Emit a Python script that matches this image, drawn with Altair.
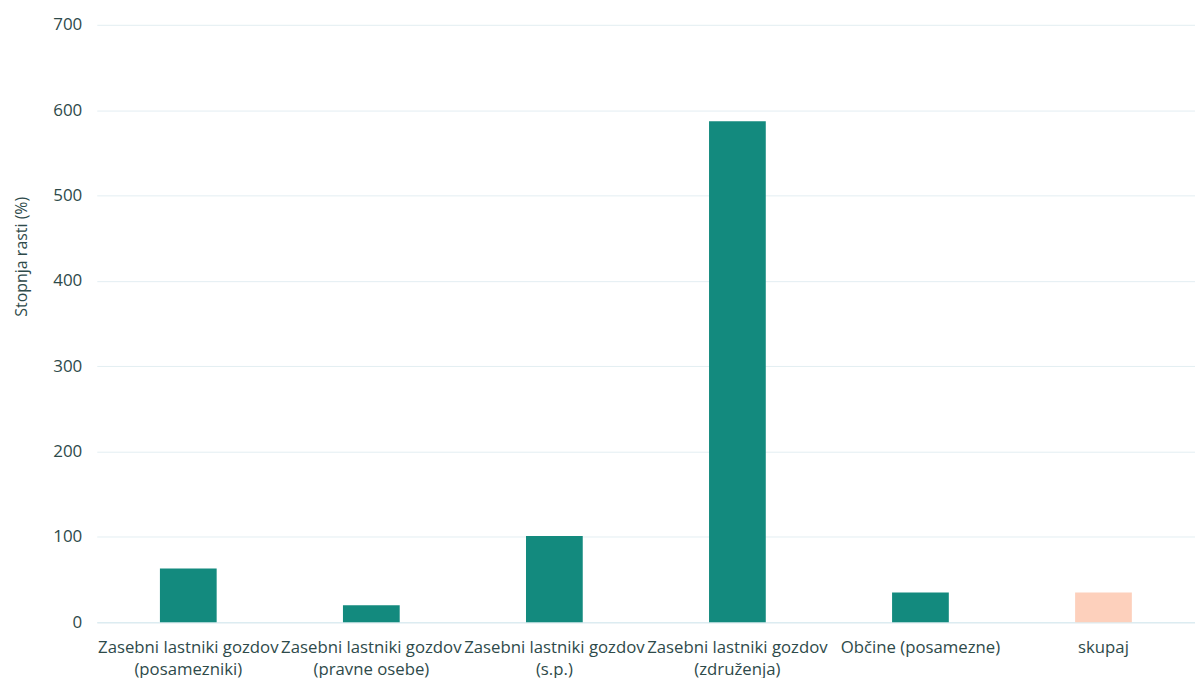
import altair as alt
import pandas as pd

kategorije = [
    "Zasebni lastniki gozdov\n(posamezniki)",
    "Zasebni lastniki gozdov\n(pravne osebe)",
    "Zasebni lastniki gozdov\n(s.p.)",
    "Zasebni lastniki gozdov\n(združenja)",
    "Občine (posamezne)",
    "skupaj",
]
stopnja_rasti = [63, 20, 101, 587, 35, 35]

df = pd.DataFrame({"kategorija": kategorije, "vrednost": stopnja_rasti})

TEXT = "#2e4a4a"
FONT = "Open Sans"

chart = (
    alt.Chart(df)
    .mark_bar(width={"band": 0.31})
    .encode(
        x=alt.X(
            "kategorija:N",
            sort=kategorije,
            title=None,
            scale=alt.Scale(paddingInner=0, paddingOuter=0),
            axis=alt.Axis(
                labelAngle=0,
                labelExpr="split(datum.label, '\\n')",
                labelFontSize=16.8,
                labelColor=TEXT,
                labelFont=FONT,
                labelPadding=17,
                labelLineHeight=22,
                ticks=False,
                domain=True,
                domainColor="#d6e8ee",
                labelLimit=300,
            ),
        ),
        y=alt.Y(
            "vrednost:Q",
            title="Stopnja rasti (%)",
            scale=alt.Scale(domain=[0, 700]),
            axis=alt.Axis(
                values=[0, 100, 200, 300, 400, 500, 600, 700],
                labelFontSize=17,
                labelColor=TEXT,
                labelFont=FONT,
                labelPadding=15,
                titleFontSize=16,
                titleFont=FONT,
                titleColor=TEXT,
                titleFontWeight="normal",
                titlePadding=23,
                titleY=232,
                ticks=False,
                domain=False,
                gridColor="#e3eef2",
            ),
        ),
        color=alt.condition(
            alt.datum.kategorija == "skupaj",
            alt.value("#fdd0bc"),
            alt.value("#138a7e"),
        ),
    )
    .properties(
        width=1101,
        height=599,
        padding={"left": 5, "top": 7, "right": 0, "bottom": 0},
    )
    .configure_view(stroke=None)
)

chart.save("out.html", embed_options={"renderer": "svg", "actions": False})
